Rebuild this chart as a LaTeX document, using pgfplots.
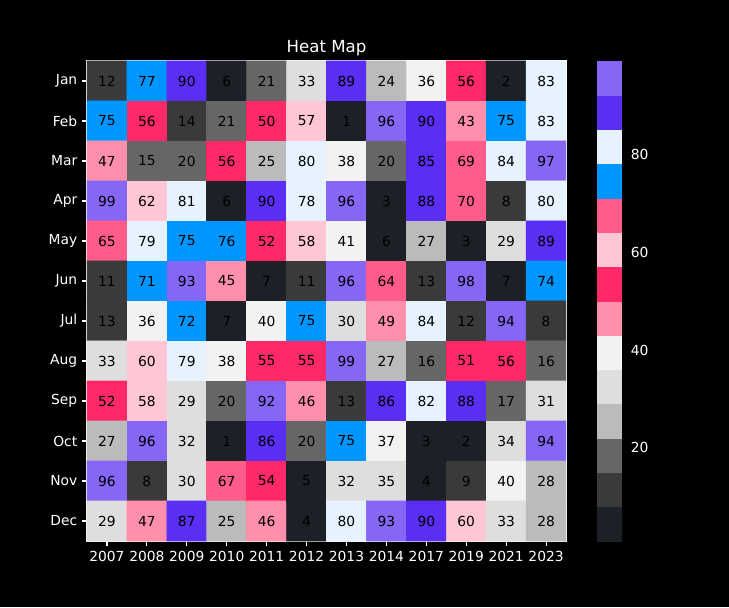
\documentclass[border=0pt]{standalone}
\usepackage{fontspec}
\setmainfont{DejaVu Sans}
\usepackage{pgfplots}
\pgfplotsset{compat=1.18}

\begin{document}
\begin{tikzpicture}
% figure background (729 x 607 px, 1px = 0.7227pt)
\fill[black] (-62.87pt,-47.70pt) rectangle (463.97pt,390.98pt);
\begin{axis}[
    at={(0,0)}, anchor=south west,
    scale only axis,
    width=346.2pt, height=346.9pt,
    xmin=-0.5, xmax=11.5, ymin=-0.5, ymax=11.5,
    xtick={0,...,11},
    xticklabels={2007,2008,2009,2010,2011,2012,2013,2014,2017,2019,2021,2023},
    ytick={0,...,11},
    yticklabels={Dec,Nov,Oct,Sep,Aug,Jul,Jun,May,Apr,Mar,Feb,Jan},
    xtick pos=left, ytick pos=left,
    tick align=outside,
    major tick length=3.5pt,
    tick style={white, line width=0.8pt},
    axis line style={white, line width=0.8pt},
    ticklabel style={white, font=\fontsize{10}{12}\selectfont},
    /pgf/number format/assume math mode=true,
    title={Heat Map},
    title style={white, font=\fontsize{12}{14}\selectfont, yshift=-6pt},
    point meta min=1, point meta max=99,
    colormap access=piecewise constant,
    colormap={hm}{
        rgb255(0cm)=(30,32,40);
        rgb255(1cm)=(58,58,58);
        rgb255(2cm)=(102,102,102);
        rgb255(3cm)=(187,187,187);
        rgb255(4cm)=(222,222,222);
        rgb255(5cm)=(242,242,242);
        rgb255(6cm)=(255,143,171);
        rgb255(7cm)=(255,41,104);
        rgb255(8cm)=(255,198,214);
        rgb255(9cm)=(255,92,138);
        rgb255(10cm)=(0,150,255);
        rgb255(11cm)=(230,243,255);
        rgb255(12cm)=(91,46,246);
        rgb255(13cm)=(133,102,245);
        rgb255(14cm)=(133,102,245)
    },
    colorbar,
    colorbar style={
        at={(parent axis.north east)}, anchor=north west,
        xshift=13.7pt,
        width=17.6pt,
        ytick={20,40,60,80},
        ytick pos=right,
        axis line style={draw=none},
        tick style={draw=none},
        tick align=outside,
        major tick length=3.5pt,
        yticklabel style={white, font=\fontsize{10}{12}\selectfont},
        /pgf/number format/assume math mode=true,
    },
    nodes near coords={\pgfmathprintnumber{\pgfplotspointmeta}},
    nodes near coords align={center},
    every node near coord/.append style={black, font=\fontsize{10}{12}\selectfont},
]
\addplot[matrix plot*, mesh/cols=12, point meta=explicit] table[meta=c] {
x y c
0 11 12
1 11 77
2 11 90
3 11 6
4 11 21
5 11 33
6 11 89
7 11 24
8 11 36
9 11 56
10 11 2
11 11 83
0 10 75
1 10 56
2 10 14
3 10 21
4 10 50
5 10 57
6 10 1
7 10 96
8 10 90
9 10 43
10 10 75
11 10 83
0 9 47
1 9 15
2 9 20
3 9 56
4 9 25
5 9 80
6 9 38
7 9 20
8 9 85
9 9 69
10 9 84
11 9 97
0 8 99
1 8 62
2 8 81
3 8 6
4 8 90
5 8 78
6 8 96
7 8 3
8 8 88
9 8 70
10 8 8
11 8 80
0 7 65
1 7 79
2 7 75
3 7 76
4 7 52
5 7 58
6 7 41
7 7 6
8 7 27
9 7 3
10 7 29
11 7 89
0 6 11
1 6 71
2 6 93
3 6 45
4 6 7
5 6 11
6 6 96
7 6 64
8 6 13
9 6 98
10 6 7
11 6 74
0 5 13
1 5 36
2 5 72
3 5 7
4 5 40
5 5 75
6 5 30
7 5 49
8 5 84
9 5 12
10 5 94
11 5 8
0 4 33
1 4 60
2 4 79
3 4 38
4 4 55
5 4 55
6 4 99
7 4 27
8 4 16
9 4 51
10 4 56
11 4 16
0 3 52
1 3 58
2 3 29
3 3 20
4 3 92
5 3 46
6 3 13
7 3 86
8 3 82
9 3 88
10 3 17
11 3 31
0 2 27
1 2 96
2 2 32
3 2 1
4 2 86
5 2 20
6 2 75
7 2 37
8 2 3
9 2 2
10 2 34
11 2 94
0 1 96
1 1 8
2 1 30
3 1 67
4 1 54
5 1 5
6 1 32
7 1 35
8 1 4
9 1 9
10 1 40
11 1 28
0 0 29
1 0 47
2 0 87
3 0 25
4 0 46
5 0 4
6 0 80
7 0 93
8 0 90
9 0 60
10 0 33
11 0 28
};
\end{axis}
\end{tikzpicture}
\end{document}
